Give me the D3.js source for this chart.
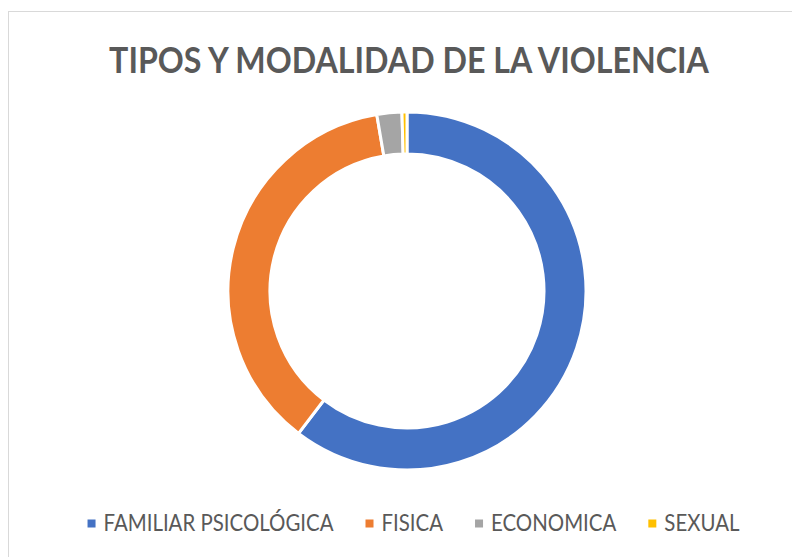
<!DOCTYPE html>
<html>
<head>
<meta charset="utf-8">
<script src="https://cdn.jsdelivr.net/npm/d3@7"></script>
<style>
  html, body { margin: 0; padding: 0; background: #fff; }
  svg { display: block; }
</style>
</head>
<body>
<svg id="chart"></svg>
<script>
// data
const categories = ["FAMILIAR PSICOLÓGICA", "FISICA", "ECONOMICA", "SEXUAL"];
const values = [134, 82, 5, 1];
const colors = ["#4472C4", "#ED7D31", "#A5A5A5", "#FFC000"];
const title = "TIPOS Y MODALIDAD DE LA VIOLENCIA";

const width = 792;
const height = 557;
const cx = 407, cy = 291;
const outerR = 179, innerR = 137;

const svg = d3.select('#chart')
  .attr('width', width)
  .attr('height', height);

// chart area border (runs off the right and bottom edges)
svg.append('rect')
  .attr('x', 8.5)
  .attr('y', 11.5)
  .attr('width', width + 20)
  .attr('height', height + 20)
  .attr('fill', '#fff')
  .attr('stroke', '#d9d9d9')
  .attr('stroke-width', 1);

// title, sized to match the reference width, stretched a bit (Calibri is taller)
const titleG = svg.append('g')
  .attr('transform', 'translate(409,73) scale(1,1.12)');
const titleText = titleG.append('text')
  .attr('text-anchor', 'middle')
  .style('font-family', 'Lato, "Open Sans", sans-serif')
  .style('font-weight', 'bold')
  .style('font-size', '36px')
  .attr('fill', '#595959')
  .text(title);
const tw = titleText.node().getComputedTextLength();
titleText.style('font-size', (36 * 600 / tw) + 'px');

// donut
const pie = d3.pie().sort(null).value(d => d);
const arc = d3.arc().innerRadius(innerR).outerRadius(outerR);

svg.append('g')
  .attr('transform', `translate(${cx},${cy})`)
  .selectAll('path')
  .data(pie(values))
  .enter().append('path')
  .attr('d', arc)
  .attr('fill', (d, i) => colors[i])
  .attr('stroke', '#fff')
  .attr('stroke-width', 3)
  .attr('stroke-linejoin', 'miter');

// legend
const legendFont = 20;
const sq = 8, sqGap = 8, itemGap = 32;
const legend = svg.append('g');
const items = legend.selectAll('g')
  .data(categories)
  .enter().append('g');
items.append('rect')
  .attr('width', sq)
  .attr('height', sq)
  .attr('y', -sq / 2)
  .attr('fill', (d, i) => colors[i]);
items.append('text')
  .attr('x', sq + sqGap)
  .attr('y', 0)
  .attr('dy', '0.35em')
  .attr('transform', 'scale(1,1.1)')
  .style('font-family', 'Lato, "Open Sans", sans-serif')
  .style('font-size', legendFont + 'px')
  .attr('fill', '#595959')
  .text(d => d);

// fit label size so the first label spans like the reference (~230px)
const firstW = items.select('text').node().getComputedTextLength();
const fitSize = legendFont * 230 / firstW;
items.selectAll('text').style('font-size', fitSize + 'px');

let xpos = 0;
items.each(function () {
  const g = d3.select(this);
  const w = g.select('text').node().getComputedTextLength();
  g.attr('transform', `translate(${xpos},0)`);
  xpos += sq + sqGap + w + itemGap;
});
const total = xpos - itemGap;
legend.attr('transform', `translate(${413.5 - total / 2},523.5)`);
</script>
</body>
</html>
